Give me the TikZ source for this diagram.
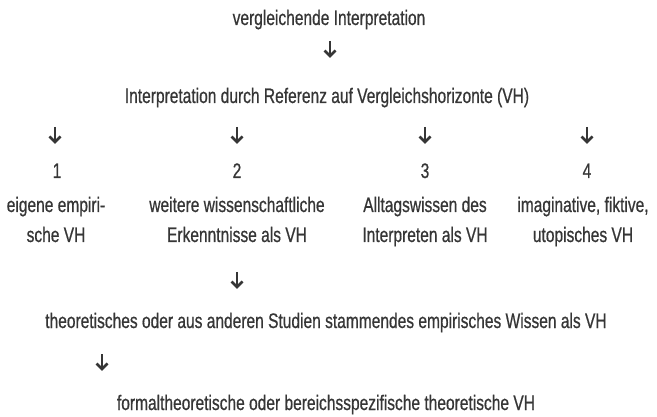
\documentclass[tikz,border=0pt]{standalone}
\usepackage{fontspec}
\usetikzlibrary{calc}
\setmainfont[FakeStretch=0.74, FakeBold=0.6]{Liberation Sans}
\definecolor{txt}{HTML}{363636}
\tikzset{
  lbl/.style={anchor=base, inner sep=0pt, text=txt, font=\fontsize{21}{30}\selectfont, align=center},
  arr/.style={draw=txt, line width=2.6pt},
}
\begin{document}
\begin{tikzpicture}[x=1pt,y=-1pt]
\useasboundingbox[fill=white] (0,0) rectangle (657,417);
% texts
\node[lbl] (top) at (329,25) {vergleichende Interpretation};
\node[lbl] (ref) at (327,103) {Interpretation durch Referenz auf Vergleichshorizonte (VH)};
\node[lbl] (n1) at (57,178) {1};
\node[lbl] (n2) at (237,178) {2};
\node[lbl] (n3) at (425,178) {3};
\node[lbl] (n4) at (587,178) {4};
\node[lbl] (c1) at (56,242) {eigene empiri-\\sche VH};
\node[lbl] (c2) at (237,242) {weitere wissenschaftliche\\Erkenntnisse als VH};
\node[lbl] (c3) at (425,242) {Alltagswissen des\\Interpreten als VH};
\node[lbl] (c4) at (583,242) {imaginative, fiktive,\\utopisches VH};
\node[lbl] (th) at (326,328) {theoretisches oder aus anderen Studien stammendes empirisches Wissen als VH};
\node[lbl] (fo) at (326,410) {formaltheoretische oder bereichsspezifische theoretische VH};
% arrows
\foreach \n/\x/\y in {a/330/41, b/55/127, c/237/127, d/425/127, e/587/127, f/237/272, g/102/354}{
  \coordinate (\n s) at (\x,\y);
  \coordinate (\n e) at (\x,\y+15);
  \draw[arr] (\n s) -- (\n e);
  \draw[arr, line join=miter] ($(\n e)+(-5.5,-5.5)$) -- (\n e) -- ($(\n e)+(5.5,-5.5)$);
}
\end{tikzpicture}
\end{document}
